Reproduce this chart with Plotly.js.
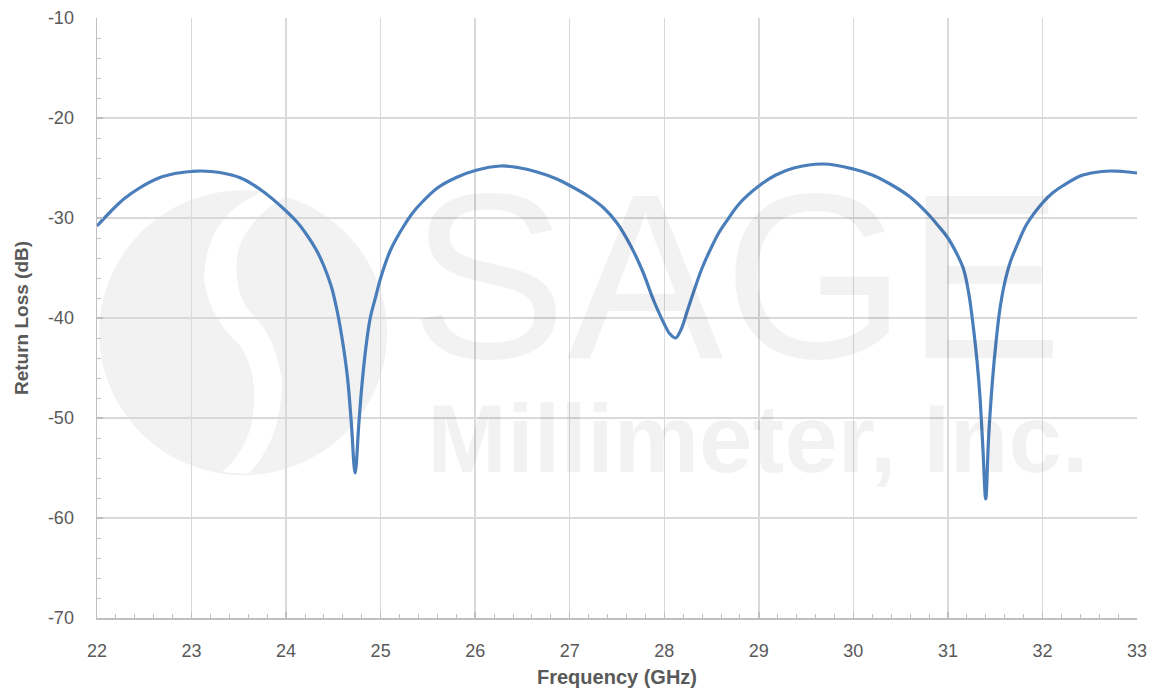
<!DOCTYPE html>
<html>
<head>
<meta charset="utf-8">
<script src="https://cdn.plot.ly/plotly-3.0.1.min.js"></script>
<style>
  html, body { margin: 0; padding: 0; background: #ffffff; }
  #chart { width: 1153px; height: 698px; }
</style>
</head>
<body>
<div id="chart"></div>
<script>
// Frequency in GHz
const freqGHz = [22.0, 22.15, 22.29, 22.45, 22.64, 22.8, 23.0, 23.1, 23.3, 23.52, 23.75, 24.0, 24.12, 24.22, 24.32, 24.40, 24.48, 24.54, 24.60, 24.65, 24.69, 24.73, 24.77, 24.805, 24.85, 24.89, 24.95, 25.0, 25.1, 25.17, 25.245, 25.33, 25.42, 25.60, 25.8, 26.0, 26.27, 26.45, 26.655, 26.85, 27.0, 27.2, 27.36, 27.5, 27.64, 27.77, 27.89, 28.0, 28.06, 28.12, 28.18, 28.24, 28.31, 28.4, 28.49, 28.57, 28.66, 28.8, 29.0, 29.18, 29.37, 29.685, 30.0, 30.2, 30.425, 30.6, 30.78, 30.9, 31.0, 31.09, 31.165, 31.22, 31.27, 31.31, 31.34, 31.37, 31.40, 31.43, 31.47, 31.51, 31.55, 31.60, 31.66, 31.75, 31.835, 32.0, 32.1, 32.22, 32.40, 32.55, 32.72, 32.85, 33.0];
// Return loss in dB
const returnLossDb = [-30.8, -29.3, -28.05, -27.0, -26.05, -25.6, -25.35, -25.3, -25.45, -26.0, -27.3, -29.3, -30.45, -31.7, -33.2, -34.8, -36.9, -39.3, -42.5, -46.0, -50.5, -55.5, -50.5, -46.4, -42.5, -40.0, -37.8, -36.0, -33.3, -32.0, -30.8, -29.6, -28.6, -27.0, -25.95, -25.25, -24.8, -24.95, -25.4, -26.05, -26.75, -27.85, -29.0, -30.5, -32.7, -35.3, -38.3, -40.6, -41.6, -42.0, -41.1, -39.4, -37.4, -35.0, -33.1, -31.6, -30.3, -28.5, -26.8, -25.7, -25.0, -24.6, -25.1, -25.7, -26.8, -27.9, -29.5, -30.8, -32.0, -33.5, -35.1, -37.5, -41.0, -44.5, -48.0, -53.0, -58.1, -52.0, -46.4, -42.3, -39.1, -36.5, -34.4, -32.3, -30.6, -28.5, -27.55, -26.75, -25.8, -25.45, -25.3, -25.35, -25.5];

const xTickVals = [22, 23, 24, 25, 26, 27, 28, 29, 30, 31, 32, 33];
const yTickVals = [-70, -60, -50, -40, -30, -20, -10];

const axisColor = '#bfbfbf';
const gridColor = '#d9d9d9';
const textColor = '#595959';
const fontFamily = '"Liberation Sans", Arial, sans-serif';

const trace = {
  x: freqGHz,
  y: returnLossDb,
  type: 'scatter',
  mode: 'lines',
  line: { color: '#4a7ebb', width: 3.2, shape: 'spline', smoothing: 1 },
  hoverinfo: 'x+y'
};

const wm = 'rgba(0,0,0,0.05)';

// watermark logo helper: plot-area pixel -> paper coords
const plotL = 97, plotW = 1040, plotB = 618, plotH = 600;
function P(px, py) {
  return ((px - plotL) / plotW).toFixed(4) + ',' + ((plotB - py) / plotH).toFixed(4);
}
const sBand = 'M ' + P(262, 192) +
  ' Q ' + P(205, 215) + ' ' + P(204, 280) +
  ' Q ' + P(210, 320) + ' ' + P(240, 345) +
  ' Q ' + P(262, 380) + ' ' + P(250, 430) +
  ' Q ' + P(240, 458) + ' ' + P(222, 472) +
  ' L ' + P(248, 474) +
  ' Q ' + P(282, 440) + ' ' + P(282, 380) +
  ' Q ' + P(275, 335) + ' ' + P(250, 312) +
  ' Q ' + P(232, 290) + ' ' + P(238, 250) +
  ' Q ' + P(250, 215) + ' ' + P(290, 194) + ' Z';

const layout = {
  width: 1153,
  height: 698,
  paper_bgcolor: '#ffffff',
  plot_bgcolor: '#ffffff',
  margin: { l: 97, r: 16, t: 18, b: 80 },
  showlegend: false,
  font: { family: fontFamily, color: textColor, size: 18 },
  xaxis: {
    range: [22, 33],
    tickvals: xTickVals,
    ticktext: xTickVals.map(String),
    showgrid: true,
    gridcolor: gridColor,
    gridwidth: 1.5,
    showline: true,
    linecolor: axisColor,
    linewidth: 1.5,
    ticks: 'inside',
    ticklen: 6,
    tickwidth: 1.5,
    tickcolor: axisColor,
    minor: { dtick: 0.2, ticks: 'inside', ticklen: 4, tickwidth: 1, tickcolor: axisColor, showgrid: false },
    tickfont: { size: 18, color: textColor, family: fontFamily },
    ticklabelstandoff: 16,
    zeroline: false,
    automargin: false,
    title: { text: 'Frequency (GHz)', font: { size: 20, color: textColor, family: fontFamily, weight: 'bold' }, standoff: 10 }
  },
  yaxis: {
    range: [-70, -10],
    tickvals: yTickVals,
    ticktext: yTickVals.map(String),
    showgrid: true,
    gridcolor: gridColor,
    gridwidth: 1.5,
    showline: true,
    linecolor: axisColor,
    linewidth: 1.5,
    ticks: 'inside',
    ticklen: 6,
    tickwidth: 1.5,
    tickcolor: axisColor,
    minor: { dtick: 2, ticks: 'inside', ticklen: 4, tickwidth: 1, tickcolor: axisColor, showgrid: false },
    tickfont: { size: 18, color: textColor, family: fontFamily },
    ticklabelstandoff: 18,
    zeroline: false,
    automargin: false,
    title: { text: 'Return Loss (dB)', font: { size: 19, color: textColor, family: fontFamily, weight: 'bold' }, standoff: 14 }
  },
  shapes: [
    { type: 'circle', xref: 'paper', yref: 'paper', layer: 'below',
      x0: 0.002, x1: 0.279, y0: 0.238, y1: 0.713,
      fillcolor: '#f2f2f2', line: { width: 0 } },
    { type: 'path', xref: 'paper', yref: 'paper', layer: 'below',
      path: sBand, fillcolor: '#ffffff', line: { width: 0 } }
  ],
  annotations: [
    { text: 'SAGE', xref: 'paper', yref: 'paper', x: 0.615, y: 0.57, xanchor: 'center', yanchor: 'middle',
      showarrow: false, font: { family: fontFamily, size: 235, color: wm } },
    { text: 'Millimeter, Inc.', xref: 'paper', yref: 'paper', x: 0.636, y: 0.30, xanchor: 'center', yanchor: 'middle',
      showarrow: false, font: { family: fontFamily, size: 96, color: wm, weight: 'bold' } }
  ]
};

Plotly.newPlot('chart', [trace], layout, { displayModeBar: false, staticPlot: true });
</script>
</body>
</html>
